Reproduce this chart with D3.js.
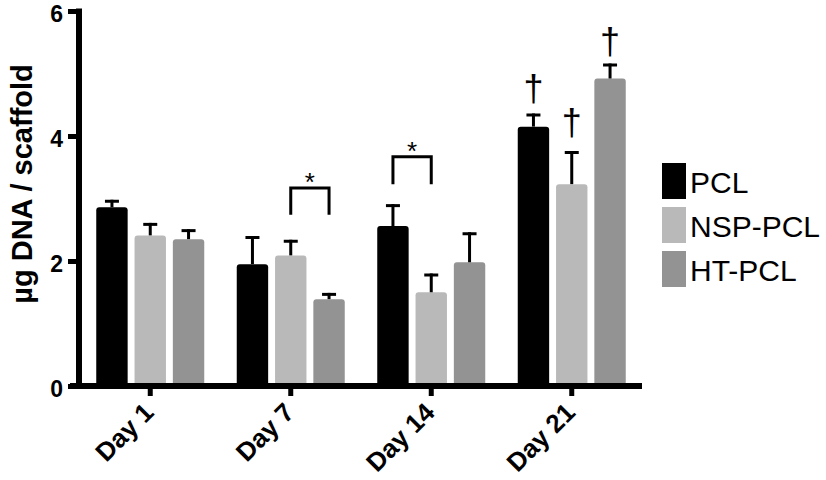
<!DOCTYPE html>
<html>
<head>
<meta charset="utf-8">
<script src="https://cdn.jsdelivr.net/npm/d3@7"></script>
<style>
  html, body { margin: 0; padding: 0; background: #fff; }
  svg { display: block; font-family: "Liberation Sans", Arial, Helvetica, sans-serif; }
</style>
</head>
<body>
<svg id="chart" width="826" height="480"></svg>
<script>
// ---- data ----
const days = ["Day 1", "Day 7", "Day 14", "Day 21"];
const seriesNames = ["PCL", "NSP-PCL", "HT-PCL"];
const seriesColors = ["#000000", "#b9b9b9", "#939393"];
const pclMean = [2.86, 1.95, 2.56, 4.15];
const pclErr  = [0.12, 0.45, 0.35, 0.21];
const nspMean = [2.41, 2.09, 1.50, 3.23];
const nspErr  = [0.20, 0.25, 0.30, 0.53];
const htMean  = [2.35, 1.39, 1.98, 4.92];
const htErr   = [0.16, 0.10, 0.48, 0.24];
const yTicks = [0, 2, 4, 6];
const yTitle = "µg DNA / scaffold";
// significance brackets (data units)
const brackets = [
  { day: "Day 7",  from: "NSP-PCL", to: "HT-PCL",  top: 3.17, bottom: 2.74, label: "*" },
  { day: "Day 14", from: "PCL",     to: "NSP-PCL", top: 3.67, bottom: 3.23, label: "*" }
];
// dagger marks (baseline in data units)
const daggers = [
  { day: "Day 21", series: "PCL",     at: 4.56 },
  { day: "Day 21", series: "NSP-PCL", at: 4.01 },
  { day: "Day 21", series: "HT-PCL",  at: 5.32 }
];

const means = [pclMean, nspMean, htMean];
const errs = [pclErr, nspErr, htErr];
const rows = [];
seriesNames.forEach((s, si) => days.forEach((d, di) => rows.push({ day: d, series: s, si, mean: means[si][di], err: errs[si][di] })));

// ---- scales ----
const svg = d3.select("#chart");
const y = d3.scaleLinear().domain([0, 6]).range([386, 11]);
const x0 = d3.scaleBand().domain(days).range([80, 642]).padding(0);
const groupW = 114.9;
const x1 = d3.scaleBand().domain(seriesNames).range([0, groupW]).paddingInner(0.18).paddingOuter(0.09);
const gOff = (x0.bandwidth() - groupW) / 2;
const bx = (d, s) => x0(d) + gOff + x1(s);
const bc = (d, s) => bx(d, s) + x1.bandwidth() / 2;
const color = d3.scaleOrdinal().domain(seriesNames).range(seriesColors);

// ---- bars ----
svg.append("g").selectAll("rect").data(rows).join("rect")
  .attr("x", d => bx(d.day, d.series))
  .attr("y", d => y(d.mean))
  .attr("width", x1.bandwidth())
  .attr("height", d => y(0) - y(d.mean) + 3)
  .attr("rx", 3)
  .attr("fill", d => color(d.series));

// ---- error bars ----
const eb = svg.append("g").attr("stroke", "#000").attr("stroke-width", 3);
eb.selectAll("line.v").data(rows).join("line").attr("class", "v")
  .attr("x1", d => bc(d.day, d.series)).attr("x2", d => bc(d.day, d.series))
  .attr("y1", d => y(d.mean)).attr("y2", d => y(d.mean + d.err));
eb.selectAll("line.c").data(rows).join("line").attr("class", "c")
  .attr("x1", d => bc(d.day, d.series) - 7).attr("x2", d => bc(d.day, d.series) + 7)
  .attr("y1", d => y(d.mean + d.err) + 1.5).attr("y2", d => y(d.mean + d.err) + 1.5);

// ---- axes ----
const yAxis = d3.axisLeft(y).tickValues(yTicks).tickSize(11).tickPadding(5).tickFormat(d3.format("d"));
const gy = svg.append("g").attr("transform", "translate(79,0)").call(yAxis);
gy.select(".domain").remove();
gy.selectAll(".tick line").attr("stroke", "#000").attr("stroke-width", 5);
gy.selectAll(".tick text").attr("fill", "#000").attr("font-size", 23).attr("font-weight", "bold")
  .attr("font-family", "Liberation Sans, Arial, sans-serif").attr("dy", 10.3);
svg.append("line").attr("x1", 79).attr("x2", 79).attr("y1", y(6) - 2.5).attr("y2", y(0))
  .attr("stroke", "#000").attr("stroke-width", 6);

const xAxis = d3.axisBottom(x0).tickSize(10).tickPadding(0);
const gx = svg.append("g").attr("transform", "translate(0," + y(0) + ")").call(xAxis);
gx.select(".domain").remove();
gx.selectAll(".tick line").attr("stroke", "#000").attr("stroke-width", 5);
gx.selectAll(".tick text")
  .attr("fill", "#000").attr("font-size", 26).attr("font-weight", "bold")
  .attr("font-family", "Liberation Sans, Arial, sans-serif")
  .attr("text-anchor", "end").attr("y", 0).attr("dy", 0)
  .attr("transform", "translate(5,28) rotate(-45)");
svg.append("line").attr("x1", 70).attr("x2", 642).attr("y1", y(0)).attr("y2", y(0))
  .attr("stroke", "#000").attr("stroke-width", 6);

// ---- y title ----
svg.append("text")
  .attr("transform", "translate(32," + ((63 + 305) / 2) + ") rotate(-90)")
  .attr("text-anchor", "middle").attr("font-size", 29).attr("font-weight", "bold")
  .attr("fill", "#000").text(yTitle);

// ---- brackets ----
const br = svg.append("g");
brackets.forEach(b => {
  const xa = bc(b.day, b.from), xb = bc(b.day, b.to);
  br.append("path")
    .attr("d", `M${xa},${y(b.bottom)}V${y(b.top)}H${xb}V${y(b.bottom)}`)
    .attr("fill", "none").attr("stroke", "#000").attr("stroke-width", 3);
  br.append("text").attr("x", (xa + xb) / 2).attr("y", y(b.top) + 3)
    .attr("text-anchor", "middle").attr("font-size", 26).attr("fill", "#000").text(b.label);
});

// ---- daggers ----
svg.append("g").selectAll("text").data(daggers).join("text")
  .attr("x", d => bc(d.day, d.series)).attr("y", d => y(d.at))
  .attr("text-anchor", "middle").attr("font-size", 36).attr("fill", "#000").text("†");

// ---- legend ----
const lg = svg.append("g").attr("transform", "translate(662,163)");
seriesNames.forEach((s, i) => {
  lg.append("rect").attr("x", 0).attr("y", i * 44).attr("width", 24).attr("height", 36).attr("fill", color(s));
  lg.append("text").attr("x", 28).attr("y", i * 44 + 30).attr("font-size", 30).attr("fill", "#000").text(s);
});
</script>
</body>
</html>
